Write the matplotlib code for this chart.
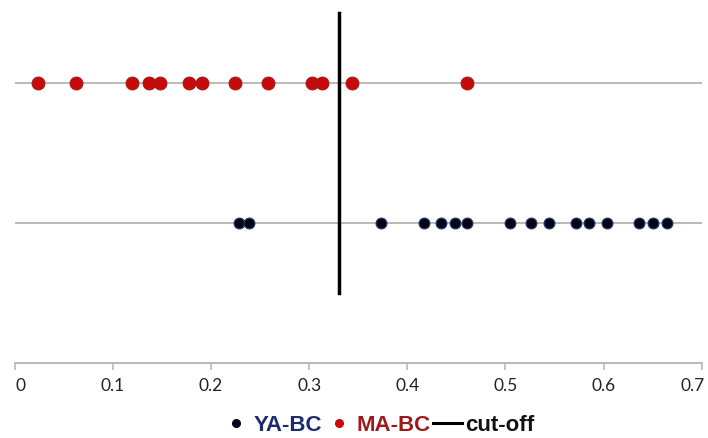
import matplotlib
matplotlib.use("Agg")
import matplotlib.pyplot as plt
import matplotlib.transforms as mtransforms
from matplotlib.lines import Line2D

# Data
ma_bc = [0.024, 0.0625, 0.120, 0.137, 0.148, 0.178, 0.191, 0.2245, 0.2585, 0.3034, 0.313, 0.3435, 0.461]
ya_bc = [0.2286, 0.2388, 0.3734, 0.4172, 0.4345, 0.4488, 0.4611, 0.5049, 0.5263, 0.5446,
         0.5722, 0.5854, 0.6038, 0.6364, 0.6507, 0.6649]
cutoff = 0.33
xticks = [0, 0.1, 0.2, 0.3, 0.4, 0.5, 0.6, 0.7]
xtick_labels = ["0", "0.1", "0.2", "0.3", "0.4", "0.5", "0.6", "0.7"]
row_ma = 2
row_ya = 1

fig = plt.figure(figsize=(7.08, 4.38), dpi=100)
ax = fig.add_axes([14.7 / 708, 0.172, (701.7 - 14.7) / 708, 0.828])
ax.set_xlim(0, 0.7)
ax.set_ylim(0, 2.59)

grid_c = "#b4b4b4"
ax.axhline(row_ma, color=grid_c, lw=1.3, zorder=1)
ax.axhline(row_ya, color=grid_c, lw=1.3, zorder=1)

ax.plot(ma_bc, [row_ma] * len(ma_bc), "o", ms=9.2, color="#c80a0a", mec="#a51a1a", mew=0.8, ls="none", zorder=3)
ax.plot(ya_bc, [row_ya] * len(ya_bc), "o", ms=7.8, color="#050518", mec="#2a3a6a", mew=0.8, ls="none", zorder=3)
ax.plot([cutoff, cutoff], [0.5, 2.5], color="black", lw=2.5, zorder=4)

for s in ["left", "right", "top"]:
    ax.spines[s].set_visible(False)
ax.spines["bottom"].set_color(grid_c)
ax.spines["bottom"].set_linewidth(1.3)
ax.set_yticks([])
ax.set_xticks(xticks)
ax.set_xticklabels(xtick_labels, fontsize=12.5, color="#222222", family=["Lato", "DejaVu Sans"])
ax.tick_params(axis="x", direction="out", length=5, width=1.1, color=grid_c, pad=6)

labs = ax.get_xticklabels()
labs[0].set_transform(labs[0].get_transform() + mtransforms.ScaledTranslation(6 / 100, 0, fig.dpi_scale_trans))
labs[-1].set_transform(labs[-1].get_transform() + mtransforms.ScaledTranslation(-9 / 100, 0, fig.dpi_scale_trans))

handles = [
    Line2D([], [], marker="o", ls="none", color="#050518", ms=5.5),
    Line2D([], [], marker="o", ls="none", color="#c80a0a", ms=5.5),
    Line2D([], [], color="black", lw=2.2),
]
labels = ["YA-BC", "MA-BC", "cut-off"]
leg = fig.legend(handles, labels, loc="center", bbox_to_anchor=(0.534, 0.028), ncol=3,
                 frameon=False, prop={"weight": "bold", "size": 16, "family": "Liberation Sans"},
                 handlelength=1.3, handletextpad=0.15, columnspacing=0.1)
for t, c in zip(leg.get_texts(), ["#1d2b6e", "#9e1a1a", "#111111"]):
    t.set_color(c)

fig.savefig("out.png", dpi=100)
